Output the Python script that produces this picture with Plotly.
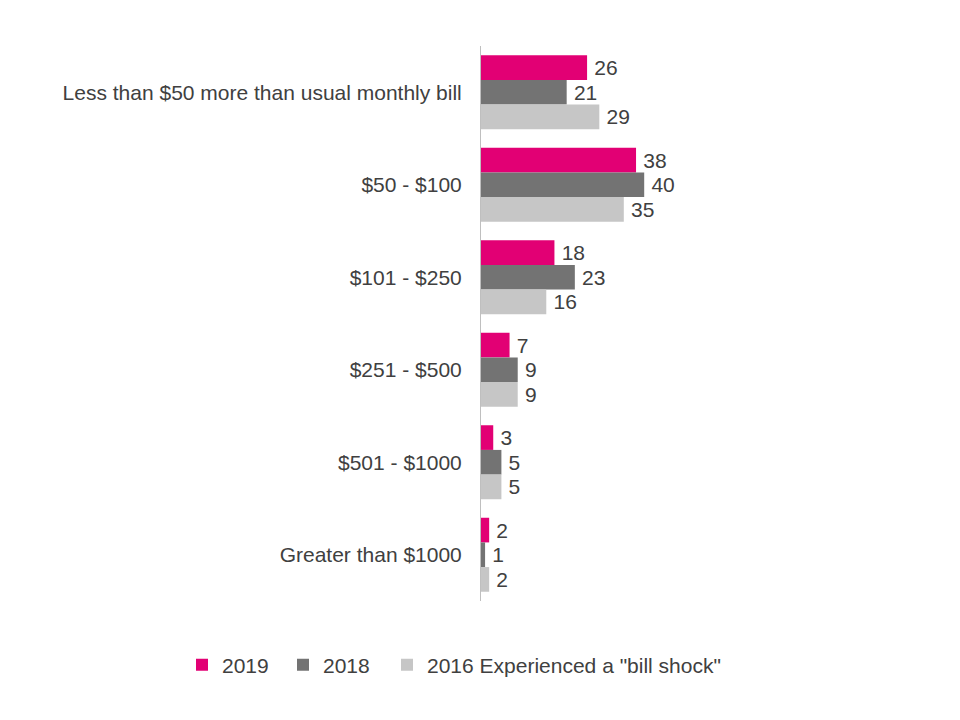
import plotly.graph_objects as go

categories = [
    "Less than $50 more than usual monthly bill",
    "$50 - $100",
    "$101 - $250",
    "$251 - $500",
    "$501 - $1000",
    "Greater than $1000",
]
series_names = ["2019", "2018", "2016 Experienced a \"bill shock\""]
values_2019 = [26, 38, 18, 7, 3, 2]
values_2018 = [21, 40, 23, 9, 5, 1]
values_2016 = [29, 35, 16, 9, 5, 2]
colors = ["#E20074", "#737373", "#C6C6C6"]

FONT = "Liberation Sans, Arial, sans-serif"
TXT = "#404040"
FS = 21

legend_ids = ["legend", "legend2", "legend3"]
legend_x = [182, 283, 387]  # left edge in px of each legend entry

fig = go.Figure()
for name, vals, col, lid in zip(series_names, [values_2019, values_2018, values_2016], colors, legend_ids):
    fig.add_trace(go.Bar(
        y=categories, x=vals, name=name, orientation="h",
        marker=dict(color=col, line=dict(width=0)),
        text=["\u2009" + str(v) for v in vals], textposition="outside",
        textfont=dict(family=FONT, size=FS, color=TXT),
        cliponaxis=False, legend=lid,
    ))

legends = {}
for lid, lx in zip(legend_ids, legend_x):
    legends[lid] = dict(
        orientation="h", xref="container", yref="container",
        x=lx / 960, xanchor="left", y=1 - 665 / 720, yanchor="middle",
        font=dict(family=FONT, size=FS, color=TXT),
        itemwidth=30, bgcolor="rgba(0,0,0,0)",
    )

fig.update_layout(
    width=960, height=720,
    paper_bgcolor="white", plot_bgcolor="white",
    margin=dict(l=481, r=71, t=46, b=119, autoexpand=False),
    barmode="group", bargap=0.2, bargroupgap=0,
    font=dict(family=FONT, size=FS, color=TXT),
    showlegend=True,
    xaxis=dict(range=[0, 100], visible=False, showgrid=False, zeroline=False),
    yaxis=dict(
        autorange="reversed", showgrid=False, zeroline=False,
        showline=True, linecolor="#BFBFBF", linewidth=1,
        ticks="", ticklabelstandoff=14,
        tickfont=dict(family=FONT, size=FS, color=TXT),
    ),
    **legends,
)

fig.write_html("out.html")
